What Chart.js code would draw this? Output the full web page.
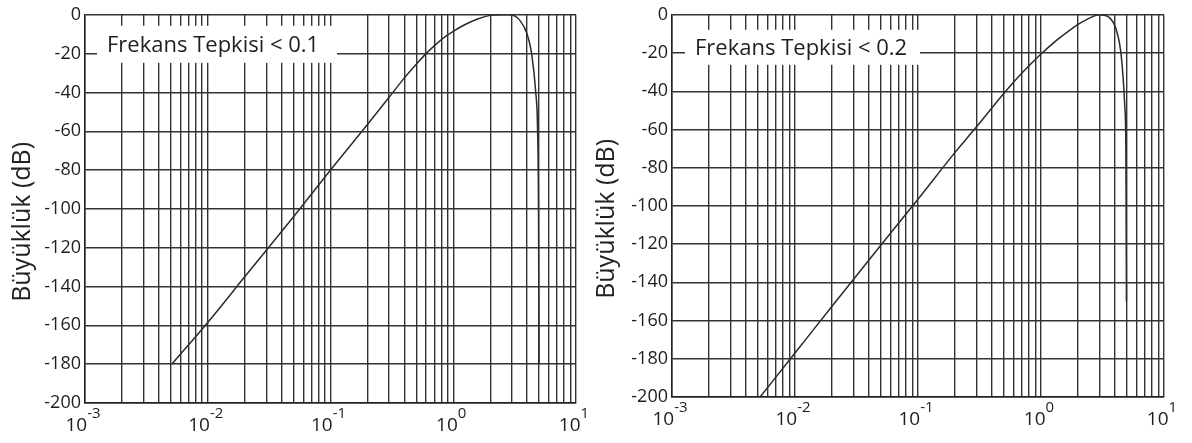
<!DOCTYPE html>
<html>
<head>
<meta charset="utf-8">
<script src="https://cdn.jsdelivr.net/npm/chart.js@4.4.1/dist/chart.umd.min.js"></script>
<style>
    html, body { margin: 0; padding: 0; background: #fff; }
    #sol { position: absolute; left: 0; top: 0; }
    #sag { position: absolute; left: 590px; top: 0; }
</style>
</head>
<body>
<canvas id="sol" width="590" height="443"></canvas>
<canvas id="sag" width="602" height="443"></canvas>
<script>
// frekans (log) ve genlik (dB)
const frekansSol = [0.0051, 0.01, 0.02, 0.05, 0.1, 0.2, 0.3, 0.4, 0.5, 0.6, 0.7, 0.85, 1.0, 1.25, 1.6, 2.0, 2.5, 2.9, 3.5, 4.0, 4.35, 4.7, 4.86, 4.95, 5.0];
const genlikSol  = [-180, -158.5, -135, -104, -80, -56.5, -42.5, -32.5, -25.5, -20, -16, -11.5, -8.5, -5, -2, -0.3, 0, 0, -3, -10, -20, -40, -58, -100, -180];

const frekansSag = [0.0052, 0.01, 0.02, 0.05, 0.1, 0.2, 0.3, 0.5, 0.7, 1.0, 1.3, 1.6, 2.0, 2.35, 3.0, 3.6, 4.1, 4.5, 4.8, 4.9, 4.95];
const genlikSag  = [-200, -177, -152.5, -120.5, -96.5, -72, -58.5, -41, -30.5, -20.5, -14, -9.5, -5, -2.5, 0, -1.5, -8, -22, -48, -72, -150];

const etiketSol = 'Frekans Tepkisi < 0.1';
const etiketSag = 'Frekans Tepkisi < 0.2';
const yEtiketi = 'Büyüklük (dB)';

const onlukUsler = [-3, -2, -1, 0, 1];
const carpanlar = [1, 2, 3, 4, 5, 6, 7, 8, 9];
const yTikler = [0, -20, -40, -60, -80, -100, -120, -140, -160, -180, -200];

function izgaraDegerleri() {
    const degerler = [];
    onlukUsler.slice(0, -1).forEach(e => {
        carpanlar.forEach(c => degerler.push(parseFloat((c * Math.pow(10, e)).toPrecision(6))));
    });
    degerler.push(Math.pow(10, onlukUsler[onlukUsler.length - 1]));
    return degerler;
}

// kutu, y ekseni basligi ve 10^n etiketleri
const yaziEklentisi = {
    id: 'yazi',
    beforeDatasetsDraw(chart, args, opts) {
        const { ctx, chartArea } = chart;
        const x = chartArea.left + opts.dx;
        const y = chartArea.top + opts.dy;
        ctx.save();
        ctx.fillStyle = '#fff';
        ctx.fillRect(x, y, opts.w, opts.h);
        ctx.fillStyle = '#1e1e1e';
        ctx.font = '22px "Open Sans"';
        ctx.textBaseline = 'middle';
        ctx.fillText(opts.metin, x + opts.pad, y + opts.h / 2 + 1);
        ctx.restore();
    },
    afterDraw(chart, args, opts) {
        const { ctx, chartArea, scales } = chart;
        ctx.save();
        ctx.fillStyle = '#1e1e1e';
        ctx.textBaseline = 'alphabetic';
        onlukUsler.forEach(e => {
            const px = scales.x.getPixelForValue(Math.pow(10, e));
            ctx.font = '19px "Open Sans"';
            const w1 = ctx.measureText('10').width;
            ctx.font = '15px "Open Sans"';
            const w2 = ctx.measureText(String(e)).width;
            const bas = px - (w1 + w2) / 2 - 2;
            ctx.font = '19px "Open Sans"';
            ctx.fillText('10', bas, chartArea.bottom + 28);
            ctx.font = '15px "Open Sans"';
            ctx.fillText(String(e), bas + w1, chartArea.bottom + 15);
        });
        ctx.translate(chartArea.left + opts.baslikX, (chartArea.top + chartArea.bottom) / 2 + 13);
        ctx.rotate(-Math.PI / 2);
        ctx.fillStyle = '#222';
        ctx.font = '25px "Open Sans"';
        ctx.textAlign = 'center';
        ctx.textBaseline = 'middle';
        ctx.fillText(yEtiketi, 0, 0);
        ctx.restore();
    }
};

function ciz(id, frekans, genlik, etiket, yGenislik, xYukseklik, dolgu, kutu) {
    const ctx = document.getElementById(id).getContext('2d');
    const veri = frekans.map((f, i) => ({ x: f, y: genlik[i] }));
    return new Chart(ctx, {
        type: 'line',
        data: {
            datasets: [{
                data: veri,
                borderColor: '#2b2b2b',
                borderWidth: 1.5,
                pointRadius: 0,
                fill: false,
                cubicInterpolationMode: 'monotone'
            }]
        },
        options: {
            animation: false,
            responsive: false,
            layout: { padding: dolgu },
            plugins: {
                legend: { display: false },
                tooltip: { enabled: false },
                yazi: Object.assign({ metin: etiket }, kutu)
            },
            scales: {
                x: {
                    type: 'logarithmic',
                    min: Math.pow(10, onlukUsler[0]),
                    max: Math.pow(10, onlukUsler[onlukUsler.length - 1]),
                    afterBuildTicks: s => { s.ticks = izgaraDegerleri().map(v => ({ value: v })); },
                    afterFit: s => { s.height = xYukseklik; },
                    grid: { color: '#333', lineWidth: 1.4, drawTicks: false },
                    border: { color: '#222', width: 1.5 },
                    ticks: { display: false }
                },
                y: {
                    min: yTikler[yTikler.length - 1],
                    max: yTikler[0],
                    afterBuildTicks: s => { s.ticks = yTikler.map(v => ({ value: v })); },
                    afterFit: s => { s.width = yGenislik; },
                    grid: { color: '#333', lineWidth: 1.4, drawTicks: false },
                    border: { color: '#222', width: 1.5 },
                    ticks: {
                        padding: 4,
                        color: '#1e1e1e',
                        font: { family: '"Open Sans"', size: 18 }
                    }
                }
            }
        },
        plugins: [yaziEklentisi]
    });
}

function main() {
    ciz('sol', frekansSol, genlikSol, etiketSol, 85, 40,
        { top: 14, right: 14, left: 0, bottom: 0 },
        { dx: 12, dy: 11, w: 240, h: 37, pad: 10, baslikX: -62 });
    ciz('sag', frekansSag, genlikSag, etiketSag, 82, 46,
        { top: 7, right: 28, left: 0, bottom: 0 },
        { dx: 13, dy: 15, w: 235, h: 35, pad: 10, baslikX: -65 });
}

window.addEventListener('DOMContentLoaded', main);
</script>
</body>
</html>
